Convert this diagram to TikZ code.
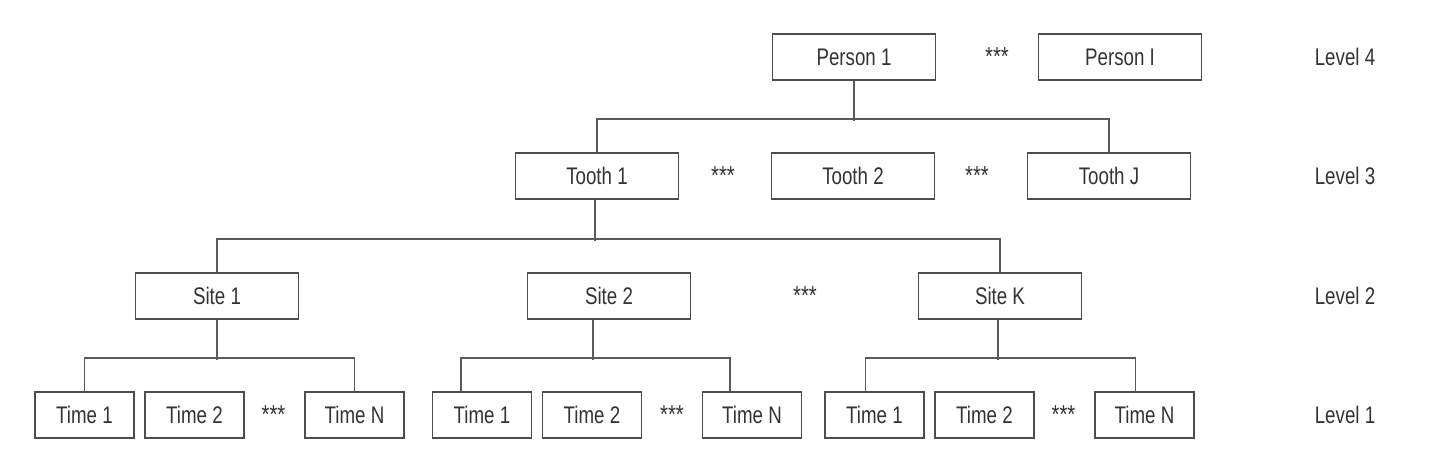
\documentclass[tikz,border=0pt]{standalone}
\usepackage{fontspec}
\setmainfont{Liberation Sans}[FakeStretch=0.78]
\usepackage{tikz}
\usetikzlibrary{positioning}
\definecolor{boxgray}{HTML}{4D4D4D}
\definecolor{linegray}{HTML}{5A5A5A}
\definecolor{textgray}{HTML}{333333}

\begin{document}
\begin{tikzpicture} [x=0.5pt,y=0.5pt,node distance=55pt,line width=0.9pt,
  every node/.style={font=\fontsize{12}{14}\selectfont,text=textgray,text height=8.6pt,text depth=0pt},
  box/.style={draw=boxgray,rectangle,minimum width=81.5pt,minimum height=23pt,inner sep=0pt},
  timebox/.style={box,minimum width=49.5pt},
  dots/.style={font=\fontsize{13}{15}\selectfont},
  link/.style={draw=linegray}]

  \useasboundingbox (0,0) rectangle (1437,450);

  \node[box] (p1) at (854,393) {Person 1};
  \node[dots] (pd) [node distance=71.5pt, right of=p1] {***};
  \node[box] (pI) [node distance=133pt, right of=p1] {Person I};

  \node[box] (t1) at (597,274) {Tooth 1};
  \node[dots] (td1) [node distance=63pt, right of=t1] {***};
  \node[box] (t2) [node distance=128pt, right of=t1] {Tooth 2};
  \node[dots] (td2) [node distance=62pt, right of=t2] {***};
  \node[box] (tJ) [node distance=128pt, right of=t2] {Tooth J};

  \node[box] (s1) at (217,154) {Site 1};
  \node[box] (s2) [node distance=196pt, right of=s1] {Site 2};
  \node[dots] (sd) [node distance=98pt, right of=s2] {***};
  \node[box] (sK) [node distance=195.5pt, right of=s2] {Site K};

  \node[timebox] (a1) at (84.5,35) {Time 1};
  \node[timebox] (a2) [right of=a1] {Time 2};
  \node[dots] (ad) [node distance=39.5pt, right of=a2] {***};
  \node[timebox] (aN) [node distance=80pt, right of=a2] {Time N};

  \node[timebox] (b1) at (482,35) {Time 1};
  \node[timebox] (b2) [right of=b1] {Time 2};
  \node[dots] (bd) [node distance=40pt, right of=b2] {***};
  \node[timebox] (bN) [node distance=80pt, right of=b2] {Time N};

  \node[timebox] (c1) at (874.5,35) {Time 1};
  \node[timebox] (c2) [right of=c1] {Time 2};
  \node[dots] (cd) [node distance=39.5pt, right of=c2] {***};
  \node[timebox] (cN) [node distance=80pt, right of=c2] {Time N};

  \node (l4) at (1345,393) {Level 4};
  \node (l3) at (1345,274) {Level 3};
  \node (l2) at (1345,154) {Level 2};
  \node (l1) at (1345,35) {Level 1};

  \path[link] (p1.south) -- ++(0,-40)
    (t1.north) -- ++(0,33) -| (tJ.north);
  \path[link] ([xshift=-1pt]t1.south) -- ++(0,-41)
    (s1.north) -- ++(0,33) -| (sK.north);
  \path[link] (s1.south) -- ++(0,-40)
    (a1.north) -- ++(0,33) -| (aN.north);
  \path[link] ([xshift=-8pt]s2.south) -- ++(0,-40)
    ([xshift=-10.5pt]b1.north) -- ++(0,33) -| ([xshift=-11pt]bN.north);
  \path[link] ([xshift=-1pt]sK.south) -- ++(0,-40)
    ([xshift=-4.5pt]c1.north) -- ++(0,33) -| ([xshift=-4.5pt]cN.north);

\end{tikzpicture}
\end{document}
